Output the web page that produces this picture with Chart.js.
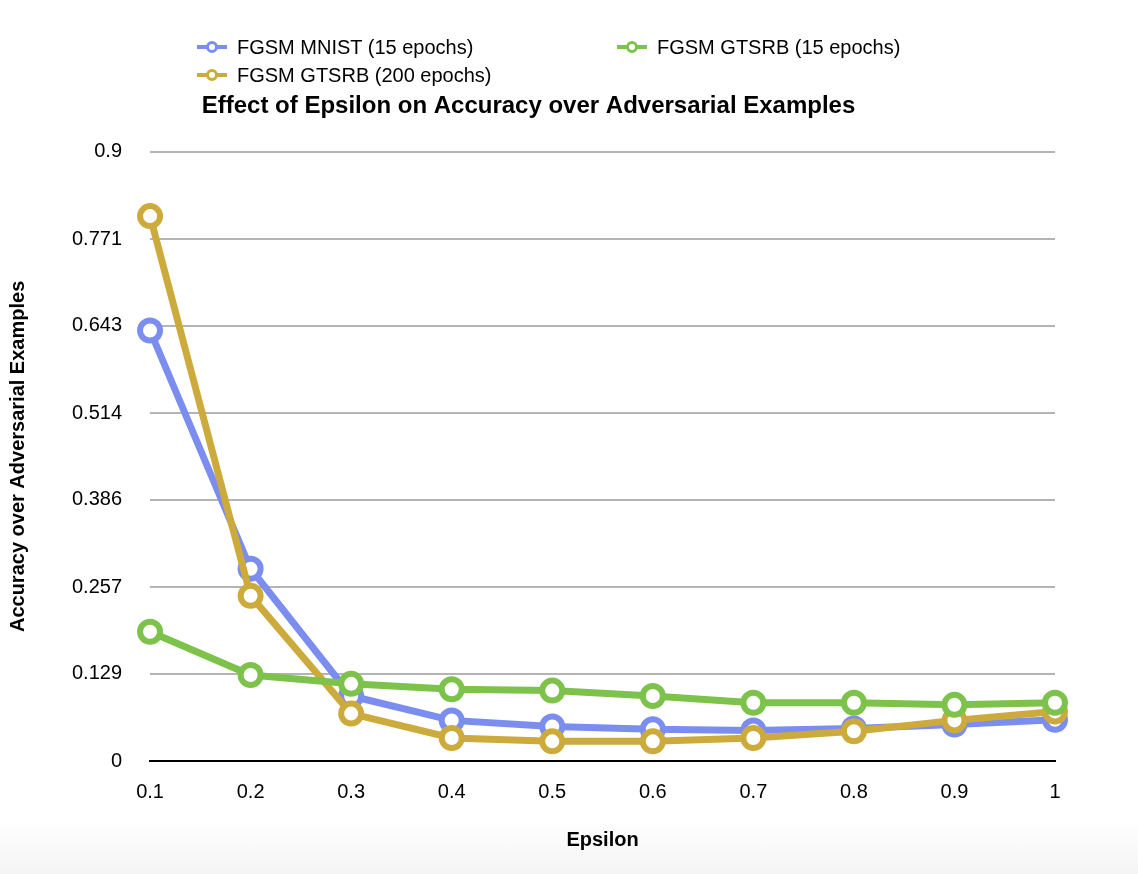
<!DOCTYPE html>
<html>
<head>
<meta charset="utf-8">
<script src="https://cdn.jsdelivr.net/npm/chart.js@4/dist/chart.umd.min.js"></script>
<style>
  body { margin: 0; background: #fff; font-family: "Liberation Sans", Arial, sans-serif; }
  #wrap { position: relative; width: 1138px; height: 874px;
          background: linear-gradient(#fff 0, #fff 820px, #f4f4f4 874px); }
  #legend { position: absolute; left: 197px; top: 34px; display: grid;
            grid-template-columns: 420px 360px; row-gap: 2px; font-size: 20px; }
  .item { display: flex; align-items: center; height: 26px; }
  .mark { width: 30px; height: 12px; position: relative; margin-right: 10px; }
  .mark::before { content: ""; position: absolute; left: 0; right: 0; top: 4px; height: 4px; background: var(--c); }
  .mark::after { content: ""; position: absolute; left: 9px; top: 0; width: 6px; height: 6px;
                 border: 3px solid var(--c); border-radius: 50%; background: #fff; }
</style>
</head>
<body>
<div id="wrap">
  <div id="legend"></div>
  <canvas id="chart" width="1138" height="874"></canvas>
</div>
<script>
// ── datos ──
const epsilons = ["0.1", "0.2", "0.3", "0.4", "0.5", "0.6", "0.7", "0.8", "0.9", "1"];
const mnist15 = [0.636, 0.284, 0.096, 0.060, 0.051, 0.047, 0.045, 0.048, 0.054, 0.061];
const gtsrb15 = [0.191, 0.127, 0.114, 0.106, 0.104, 0.096, 0.086, 0.086, 0.083, 0.086];
const gtsrb200 = [0.805, 0.244, 0.070, 0.034, 0.029, 0.029, 0.034, 0.044, 0.060, 0.073];
const yTicks = [0, 0.129, 0.257, 0.386, 0.514, 0.643, 0.771, 0.9];
const yTickLabels = ["0", "0.129", "0.257", "0.386", "0.514", "0.643", "0.771", "0.9"];

const series = [
  { label: "FGSM MNIST (15 epochs)", data: mnist15, color: "#7b8ef0" },
  { label: "FGSM GTSRB (15 epochs)", data: gtsrb15, color: "#7dc24b" },
  { label: "FGSM GTSRB (200 epochs)", data: gtsrb200, color: "#ccab3c" }
];

// leyenda en HTML (dos columnas)
const legend = document.getElementById("legend");
series.forEach(s => {
  const d = document.createElement("div");
  d.className = "item";
  d.innerHTML = '<span class="mark" style="--c:' + s.color + '"></span>' + s.label;
  legend.appendChild(d);
});

// orden de dibujo: verde abajo, dorado, azul arriba
const drawOrder = [2, 0, 1];

new Chart(document.getElementById("chart"), {
  type: "line",
  data: {
    labels: epsilons,
    datasets: series.map((s, i) => ({
      label: s.label,
      data: s.data,
      borderColor: s.color,
      backgroundColor: "#fff",
      pointBackgroundColor: "#fff",
      pointBorderColor: s.color,
      borderWidth: 7,
      pointRadius: 10,
      pointBorderWidth: 6,
      tension: 0,
      order: drawOrder[i]
    }))
  },
  options: {
    responsive: false,
    animation: false,
    layout: { padding: { top: 92, right: 83, left: 2, bottom: 18 } },
    plugins: {
      legend: { display: false },
      tooltip: { enabled: false },
      title: {
        display: true,
        text: "Effect of Epsilon on Accuracy over Adversarial Examples",
        color: "#000",
        font: { size: 24, weight: "bold", family: "Liberation Sans" },
        padding: { top: 0, bottom: 31 }
      }
    },
    scales: {
      x: {
        offset: false,
        grid: { display: false, drawTicks: false },
        border: { color: "#000", width: 2 },
        ticks: { color: "#000", font: { size: 20, family: "Liberation Sans" }, padding: 19 },
        title: { display: true, text: "Epsilon", color: "#000",
                 font: { size: 20, weight: "bold", family: "Liberation Sans" }, padding: { top: 5 } }
      },
      y: {
        min: 0, max: 0.9,
        afterBuildTicks: axis => { axis.ticks = yTicks.map(v => ({ value: v })); },
        grid: { color: "#b4b4b4", lineWidth: 2, drawTicks: false },
        border: { display: false },
        ticks: {
          color: "#000", font: { size: 20, family: "Liberation Sans" }, padding: 28,
          callback: (v) => yTickLabels[yTicks.indexOf(v)] ?? ""
        },
        title: { display: true, text: "Accuracy over Adversarial Examples", color: "#000",
                 font: { size: 20, weight: "bold", family: "Liberation Sans" }, padding: { bottom: 14 } }
      }
    }
  }
});
</script>
</body>
</html>
